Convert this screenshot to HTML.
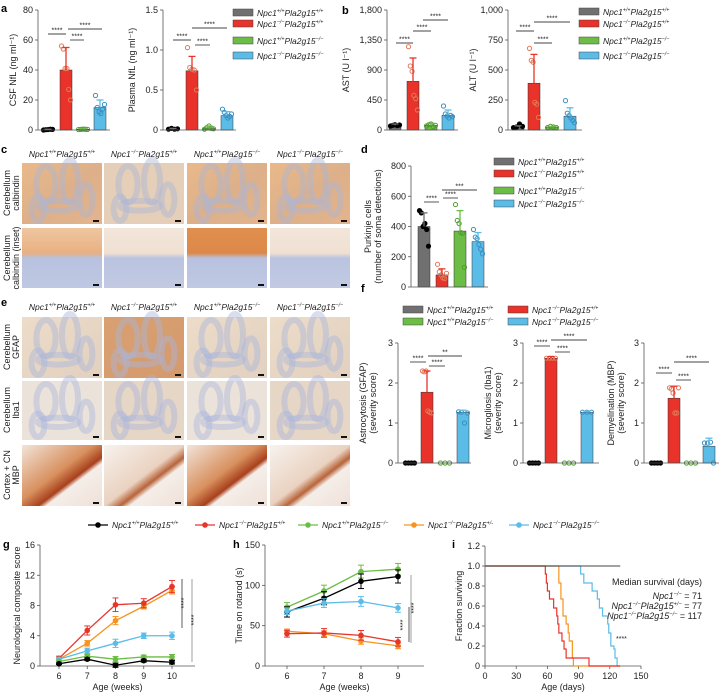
<!DOCTYPE html>
<html><head><meta charset="utf-8"><style>
html,body{margin:0;padding:0;background:#fff;}
svg{display:block;font-family:"Liberation Sans",Arial,sans-serif;}
</style></head><body>
<svg id="fig" width="722" height="693" viewBox="0 0 722 693" xmlns="http://www.w3.org/2000/svg">
<defs>
<linearGradient id="gCal" x1="0" y1="0" x2="1" y2="1"><stop offset="0" stop-color="#e9b98a"/><stop offset="0.5" stop-color="#ddb08a"/><stop offset="1" stop-color="#e3b48c"/></linearGradient>
<linearGradient id="gIns" x1="0" y1="0" x2="0" y2="1"><stop offset="0" stop-color="#eec6a0"/><stop offset="0.42" stop-color="#e8b082"/><stop offset="0.5" stop-color="#b8c2df"/><stop offset="1" stop-color="#bfc8e2"/></linearGradient>
<linearGradient id="gIns2" x1="0" y1="0" x2="0" y2="1"><stop offset="0" stop-color="#f2e6da"/><stop offset="0.42" stop-color="#efe0d2"/><stop offset="0.5" stop-color="#bac4e0"/><stop offset="1" stop-color="#c2cae2"/></linearGradient>
<linearGradient id="gIns3" x1="0" y1="0" x2="0" y2="1"><stop offset="0" stop-color="#e08f4f"/><stop offset="0.42" stop-color="#dc8848"/><stop offset="0.5" stop-color="#b8c2df"/><stop offset="1" stop-color="#c0c8e2"/></linearGradient>
<linearGradient id="gGF" x1="0" y1="0" x2="1" y2="1"><stop offset="0" stop-color="#ecdcc8"/><stop offset="1" stop-color="#e2d0c0"/></linearGradient>
<linearGradient id="gGF2" x1="0" y1="0" x2="1" y2="1"><stop offset="0" stop-color="#d9a070"/><stop offset="1" stop-color="#d49a6e"/></linearGradient>
<linearGradient id="gMBP" x1="0" y1="0" x2="1" y2="1"><stop offset="0" stop-color="#f2e4da"/><stop offset="0.45" stop-color="#d8905e"/><stop offset="0.6" stop-color="#a8401c"/><stop offset="0.65" stop-color="#f5eee8"/><stop offset="1" stop-color="#efe0d8"/></linearGradient>
<linearGradient id="gMBP2" x1="0" y1="0" x2="1" y2="1"><stop offset="0" stop-color="#f7f2ee"/><stop offset="0.5" stop-color="#ead2c0"/><stop offset="0.6" stop-color="#b8643a"/><stop offset="0.66" stop-color="#f5eee8"/><stop offset="1" stop-color="#efe0d8"/></linearGradient>
</defs>
</svg>
<script>
// ---------------- DATA ----------------
const groups = ["Npc1+/+Pla2g15+/+","Npc1-/-Pla2g15+/+","Npc1+/+Pla2g15-/-","Npc1-/-Pla2g15-/-"];
const csfMean = [0.3, 40, 0.5, 15];
const csfErr = [0.5, 55, 0.8, 20];
const csfPts = [[0,0.2,0.3,0.5,0.4],[56,54,41,41,27,20],[0.3,0.4,0.6,0.5,0.4],[23,15,12,11,14,17]];
const plasmaMean = [0.01, 0.74, 0.02, 0.18];
const plasmaErr = [0.02, 0.92, 0.05, 0.23];
const plasmaPts = [[0.01,0.02,0.01,0.015],[1.03,0.78,0.76,0.75,0.5],[0.01,0.03,0.05,0.02,0.015],[0.26,0.22,0.18,0.15,0.17,0.2]];
const astMean = [70, 730, 70, 220];
const astErr = [90, 1080, 100, 300];
const astPts = [[60,70,80,65,75],[1250,960,880,520,470,300],[60,80,90,50,70],[360,240,210,180,220,200]];
const altMean = [25, 390, 25, 115];
const altErr = [35, 630, 30, 185];
const altPts = [[20,25,50,30],[680,580,565,230,215,105],[20,30,25,20],[245,140,120,100,80,60]];
const purkMean = [400, 80, 370, 300];
const purkErr = [490, 120, 505, 360];
const purkPts = [[505,490,400,420,380,270],[150,100,80,60,55,90],[545,440,420,360,355,130],[380,330,320,280,250,220]];
const gfapMean = [0, 1.77, 0, 1.27];
const gfapErr = [0, 2.3, 0, 1.32];
const gfapPts = [[0,0,0,0],[2.3,2.28,2.3,1.3,1.27,1.25],[0,0,0],[1.28,1.27,1.0,1.25]];
const ibaMean = [0, 2.62, 0, 1.27];
const ibaErr = [0, 2.66, 0, 1.29];
const ibaPts = [[0,0,0,0],[2.62,2.62,2.62,2.62],[0,0,0],[1.27,1.27,1.27]];
const mbpMean = [0, 1.62, 0, 0.42];
const mbpErr = [0, 1.92, 0, 0.62];
const mbpPts = [[0,0,0,0],[1.88,1.85,1.75,1.25,1.25,1.88],[0,0,0],[0.5,0.5,0.52,0]];

const weeksG = [6,7,8,9,10];
const gBlack = [0.3,0.9,0.1,0.7,0.5];
const gRed = [1.0,4.7,8.1,8.3,10.5];
const gGreen = [0.6,1.3,0.9,1.2,1.2];
const gOrange = [0.9,3.0,6.0,7.9,10.0];
const gBlue = [0.9,2.0,3.0,4.0,4.0];
const gErr = [0.3,0.6,0.9,0.6,0.8];

const weeksH = [6,7,8,9];
const hBlack = [67,84,105,111];
const hGreen = [73,93,117,120];
const hBlue = [68,78,80,72];
const hRed = [40,41,38,30];
const hOrange = [43,40,31,25];
const hErr = [7,9,10,9];

const survRedT = [58,59,60,62,66,69,70,71,74,76,78,100];
const survRedV = [0.92,0.83,0.75,0.67,0.58,0.5,0.42,0.33,0.25,0.17,0.08,0];
const survOrT = [71,73,75,78,80,81,84,85];
const survOrV = [0.83,0.67,0.5,0.42,0.33,0.25,0.08,0];
const survBlT = [92,95,103,108,110,113,118,119,121,124,125,127];
const survBlV = [0.92,0.83,0.75,0.67,0.58,0.5,0.42,0.33,0.2,0.17,0.08,0];

// -------------- helpers ----------------
const svg = document.getElementById('fig');
const NS = 'http://www.w3.org/2000/svg';
const COL = ['#707070','#e8322a','#6cbd45','#5bbce8'];
const PTC = ['#000','#e07a5a','#4f9a33','#3a8fc0'];
function el(tag, attrs, parent){const e=document.createElementNS(NS,tag);for(const k in attrs)e.setAttribute(k,attrs[k]);(parent||svg).appendChild(e);return e;}
function txt(x,y,s,o){o=o||{};const t=el('text',{x:x,y:y,'font-size':o.fs||9,'text-anchor':o.a||'start',fill:o.c||'#222'});if(o.it)t.setAttribute('font-style','italic');if(o.rot)t.setAttribute('transform','rotate(-90 '+x+' '+y+')');if(o.bold)t.setAttribute('font-weight','bold');t.textContent=s;return t;}
function geno(x,y,s,fs,anchor){
  const m=s.match(/Npc1(.{3})Pla2g15(.{3})/);
  const t=el('text',{x:x,y:y,'font-size':fs,'font-style':'italic','text-anchor':anchor||'start',fill:'#222'});
  
  const sup=(m[1]==='-/-'?'\u2212/\u2212':m[1]);const sup2=(m[2]==='-/-'?'\u2212/\u2212':m[2]);
  t.innerHTML='<tspan>Npc1</tspan><tspan dy="-3.5" font-size="'+(fs*0.62)+'">'+sup+'</tspan><tspan dy="3.5">Pla2g15</tspan><tspan dy="-3.5" font-size="'+(fs*0.62)+'">'+sup2+'</tspan>';
  return t;}
function line(x1,y1,x2,y2,c,w,name){const l=el('line',{x1:x1,y1:y1,x2:x2,y2:y2,stroke:c||'#333','stroke-width':w||0.8});return l;}

function barChart(c){
  const y=v=>c.yb-(v/c.max)*(c.yb-c.yt);
  const g=el('g',{});
  line(c.ax,c.yt,c.ax,c.yb,'#555',0.8,'y-axis');
  line(c.ax,c.yb,c.xe,c.yb,'#555',0.8,'x-axis');
  c.ticks.forEach((t,i)=>{line(c.ax-3,y(t),c.ax,y(t),'#555',0.8,'y-tick');txt(c.ax-5,y(t)+3,c.tl[i],{a:'end',fs:9,name:'y-tick-label'});});
  c.lab.forEach((l,i)=>txt(c.lx+i*10,(c.yt+c.yb)/2,l,{rot:1,a:'middle',fs:9,name:'y-axis-title'}));
  c.cx.forEach((x,i)=>{
    const r=el('rect',{x:x-6,y:y(c.mean[i]),width:12,height:Math.max(0.01,c.yb-y(c.mean[i])),fill:COL[i],stroke:'#333','stroke-width':0.5},g);
    
    if(c.err[i]>c.mean[i]+0.001){line(x,y(c.mean[i]),x,y(c.err[i]),COL[i],1.3,'error-bar');line(x-3.5,y(c.err[i]),x+3.5,y(c.err[i]),COL[i],1.3,'error-cap');}
    c.pts[i].forEach((v,j)=>{const n=c.pts[i].length;const dx=(j-(n-1)/2)*(9/Math.max(n-1,1));
      const p=el('circle',{cx:x+dx,cy:y(v),r:2.1,fill:i===0?'#000':'none',stroke:PTC[i],'stroke-width':1},g);
      });
  });
  (c.sig||[]).forEach(s=>{line(s[0],s[2],s[1],s[2],'#444',0.9,'significance-bar');txt((s[0]+s[1])/2,s[2]-1.5,s[3],{a:'middle',fs:7,name:'significance-stars'});});
}
function legendBox(x,y,i,fs){const r=el('rect',{x:x,y:y-5,width:20,height:7,fill:COL[i],stroke:'#444','stroke-width':0.5});geno(x+24,y+2,groups[i],fs||8.5);}

// ---------------- panel labels -------------
[['a',1,12],['b',342,14],['c',1,153],['d',361,153],['e',1,306],['f',361,292],['g',3,548],['h',233,548],['i',452,548]].forEach(p=>txt(p[1],p[2],p[0],{bold:1,fs:11,c:'#000',name:'panel-label-'+p[0]}));

// ---------------- a ----------------
barChart({name:'csf-nfl-chart',ax:38,xe:110,yt:10,yb:130,max:80,ticks:[0,20,40,60,80],tl:['0','20','40','60','80'],lab:['CSF NfL (ng ml\u207B\u00B9)'],lx:16,cx:[48,66,83,100],mean:csfMean,err:csfErr,pts:csfPts,sig:[[48,66,34,'****'],[70,84,40,'****'],[68,102,29,'****']]});
barChart({name:'plasma-nfl-chart',ax:163,xe:236,yt:10,yb:130,max:1.5,ticks:[0,0.5,1,1.5],tl:['0','0.5','1.0','1.5'],lab:['Plasma NfL (ng ml\u207B\u00B9)'],lx:135,cx:[173,192,209,227],mean:plasmaMean,err:plasmaErr,pts:plasmaPts,sig:[[173,191,40,'****'],[195,210,45,'****'],[192,227,28,'****']]});
[14,25,42,57].forEach((yy,i)=>legendBox(233,yy,i,8.5));

// ---------------- b ----------------
barChart({name:'ast-chart',ax:387,xe:458,yt:10,yb:130,max:1800,ticks:[0,450,900,1350,1800],tl:['0','450','900','1,350','1,800'],lab:['AST (U l\u207B\u00B9)'],lx:349,cx:[395,413,431,448],mean:astMean,err:astErr,pts:astPts,sig:[[396,413,43,'****'],[413,431,31,'****'],[423,448,20,'****']]});
barChart({name:'alt-chart',ax:508,xe:582,yt:10,yb:130,max:1000,ticks:[0,250,500,750,1000],tl:['0','250','500','750','1,000'],lab:['ALT (U l\u207B\u00B9)'],lx:476,cx:[518,534,552,570],mean:altMean,err:altErr,pts:altPts,sig:[[516,534,31,'****'],[534,552,43,'****'],[534,570,22,'****']]});
[13,25,42,57].forEach((yy,i)=>legendBox(579,yy,i,8.5));

// ---------------- histology ----------------
const colX=[22,104,187,270];
function tile(x,y0,y1,fill,name,lobes){const w=80,h=y1-y0;
  const r=el('rect',{x:x,y:y0,width:w,height:h,fill:fill});
  if(lobes){[[0.3,0.35,0.12,0.3],[0.6,0.3,0.1,0.35],[0.45,0.7,0.25,0.08],[0.8,0.6,0.08,0.25],[0.2,0.75,0.08,0.2]].forEach(l=>{const e=el('ellipse',{cx:x+l[0]*w,cy:y0+l[1]*h,rx:l[2]*w,ry:l[3]*h,fill:'none',stroke:lobes,'stroke-width':6,opacity:0.45});});}
  const sb=el('rect',{x:x+w-9,y:y1-4,width:6,height:2,fill:'#111'});}
colX.forEach((x,i)=>{geno(x+40,157,groups[i],8.5,'middle');geno(x+40,310,groups[i],8.5,'middle');
  tile(x,163,224,i===1?'#e6cfb8':'url(#gCal)','calbindin-image','#aab6d8');
  tile(x,228,288,['url(#gIns)','url(#gIns2)','url(#gIns3)','url(#gIns2)'][i],'calbindin-inset-image',null);
  tile(x,317,378,(i===1?'url(#gGF2)':'url(#gGF)'),'gfap-image','#a9b5db');
  tile(x,381,440,i===0||i===2?'#ebe3da':'#e6d6c6','iba1-image','#aab6dc');
  tile(x,445,506,(i===0||i===2)?'url(#gMBP)':'url(#gMBP2)','mbp-image',null);
});
[['Cerebellum','calbindin',193],['Cerebellum','calbindin (inset)',258],['Cerebellum','GFAP',347],['Cerebellum','Iba1',410],['Cortex + CN','MBP',475]].forEach(r=>{txt(10,r[2],r[0],{rot:1,a:'middle',fs:9,name:'row-label'});txt(19,r[2],r[1],{rot:1,a:'middle',fs:9,name:'row-label'});});

// ---------------- d ----------------
barChart({name:'purkinje-chart',ax:411,xe:488,yt:166,yb:287,max:800,ticks:[0,200,400,600,800],tl:['0','200','400','600','800'],lab:['Purkinje cells','(number of soma detections)'],lx:371,cx:[424,442,460,478],mean:purkMean,err:purkErr,pts:purkPts,sig:[[424,439,202,'****'],[443,458,198,'****'],[442,477,190,'***']]});
[163,175,192,205].forEach((yy,i)=>legendBox(494,yy,i,8.5));

// ---------------- f ----------------
legendBox(403,311,0,8.5);legendBox(508,311,1,8.5);legendBox(403,323,2,8.5);legendBox(508,323,3,8.5);
barChart({name:'astrocytosis-chart',ax:398,xe:471,yt:343,yb:463,max:3,ticks:[0,1,2,3],tl:['0','1','2','3'],lab:['Astrocytosis (GFAP)','(severity score)'],lx:366,cx:[410,427,445,463],mean:gfapMean,err:gfapErr,pts:gfapPts,sig:[[410,426,362,'****'],[429,445,366,'****'],[428,462,356,'**']]});
barChart({name:'microgliosis-chart',ax:523,xe:599,yt:343,yb:463,max:3,ticks:[0,1,2,3],tl:['0','1','2','3'],lab:['Microgliosis (Iba1)','(severity score)'],lx:491,cx:[534,551,569,587],mean:ibaMean,err:ibaErr,pts:ibaPts,sig:[[534,550,346,'****'],[555,570,352,'****'],[551,587,340,'****']]});
barChart({name:'demyelination-chart',ax:644,xe:719,yt:343,yb:463,max:3,ticks:[0,1,2,3],tl:['0','1','2','3'],lab:['Demyelination (MBP)','(severity score)'],lx:614,cx:[656,674,691,709],mean:mbpMean,err:mbpErr,pts:mbpPts,sig:[[656,672,373,'****'],[676,691,380,'****'],[674,709,362,'****']]});

// ---------------- line legend ----------------
const LC={black:'#000',red:'#e8352c',green:'#6cbd45',orange:'#f7931e',blue:'#5bbce8'};
[[88,'black','Npc1+/+Pla2g15+/+'],[195,'red','Npc1-/-Pla2g15+/+'],[298,'green','Npc1+/+Pla2g15-/-'],[404,'orange','Npc1-/-Pla2g15+/-'],[509,'blue','Npc1-/-Pla2g15-/-']].forEach(e=>{
  line(e[0],525,e[0]+20,525,LC[e[1]],1.2,'legend-line');const c=el('circle',{cx:e[0]+10,cy:525,r:2.8,fill:LC[e[1]]});
  geno(e[0]+24,528,e[2],8.5);});

function lineChart(c){
  const x=v=>c.x0+(v-c.xmin)/(c.xmax-c.xmin)*(c.x1-c.x0);
  const y=v=>c.yb-(v/c.ymax)*(c.yb-c.yt);
  line(c.ax,c.yt,c.ax,c.yb,'#555',0.8,'y-axis');line(c.ax,c.yb,c.xe,c.yb,'#555',0.8,'x-axis');
  c.yt_.forEach(t=>{line(c.ax-3,y(t),c.ax,y(t),'#555',0.8,'y-tick');txt(c.ax-5,y(t)+3,String(t),{a:'end',name:'y-tick-label'});});
  c.xs.forEach(t=>{line(x(t),c.yb,x(t),c.yb+3,'#555',0.8,'x-tick');txt(x(t),c.yb+13,String(t),{a:'middle',name:'x-tick-label'});});
  txt((c.ax+c.xe)/2,c.yb+24,c.xl,{a:'middle',name:'x-axis-title'});
  txt(c.lx,(c.yt+c.yb)/2,c.yl,{rot:1,a:'middle',name:'y-axis-title'});
  c.series.forEach(s=>{
    const pts=c.xs.map((t,i)=>x(t)+','+y(s[1][i])).join(' ');
    const pl=el('polyline',{points:pts,fill:'none',stroke:LC[s[0]],'stroke-width':1.3});
    c.xs.forEach((t,i)=>{const e=c.err[i];line(x(t),y(s[1][i]-e*(s[2]||1)),x(t),y(s[1][i]+e*(s[2]||1)),LC[s[0]],1,'error-bar');
      line(x(t)-3,y(s[1][i]+e*(s[2]||1)),x(t)+3,y(s[1][i]+e*(s[2]||1)),LC[s[0]],1,'error-cap');line(x(t)-3,y(s[1][i]-e*(s[2]||1)),x(t)+3,y(s[1][i]-e*(s[2]||1)),LC[s[0]],1,'error-cap');
      const p=el('circle',{cx:x(t),cy:y(s[1][i]),r:2.8,fill:LC[s[0]]});});
  });
}
lineChart({ax:40,xe:195,x0:59,x1:172,xmin:6,xmax:10,yt:545,yb:666,ymax:16,yt_:[0,4,8,12,16],xs:weeksG,xl:'Age (weeks)',yl:'Neurological composite score',lx:20,err:gErr,
  series:[['orange',gOrange,0.6],['red',gRed],['blue',gBlue,0.6],['green',gGreen,0.4],['black',gBlack,0.3]]});
line(182,579,182,628,'#333',0.8,'significance-line');line(192,579,192,662,'#888',0.8,'significance-line');
txt(186,603,'****',{rot:1,a:'middle',fs:7,name:'significance-stars'});txt(196,620,'****',{rot:1,a:'middle',fs:7,name:'significance-stars'});
lineChart({ax:265,xe:424,x0:287,x1:398,xmin:6,xmax:9,yt:545,yb:666,ymax:150,yt_:[0,50,100,150],xs:weeksH,xl:'Age (weeks)',yl:'Time on rotarod (s)',lx:242,err:hErr,
  series:[['green',hGreen,0.8],['black',hBlack,0.9],['blue',hBlue,0.6],['orange',hOrange,0.4],['red',hRed,0.6]]});
line(409,607,409,642,'#333',0.8,'significance-line');line(411,575,411,643,'#888',0.8,'significance-line');
txt(405,625,'****',{rot:1,a:'middle',fs:7,name:'significance-stars'});txt(416,608,'****',{rot:1,a:'middle',fs:7,name:'significance-stars'});

// ---------------- i survival ----------------
(function(){
  const ax=485,x=v=>ax+v/150*(641-ax),yb=666,y=v=>yb-v/1.2*(yb-546);
  line(ax,546,ax,yb,'#555',0.8,'y-axis');line(ax,yb,641,yb,'#555',0.8,'x-axis');
  [0,0.2,0.4,0.6,0.8,1.0,1.2].forEach(t=>{line(ax-3,y(t),ax,y(t),'#555',0.8,'y-tick');txt(ax-5,y(t)+3,t===0?'0':t.toFixed(1),{a:'end',name:'y-tick-label'});});
  [0,30,60,90,120,150].forEach(t=>{line(x(t),yb,x(t),yb+3,'#555',0.8,'x-tick');txt(x(t),yb+13,String(t),{a:'middle',name:'x-tick-label'});});
  txt(563,690,'Age (days)',{a:'middle',name:'x-axis-title'});txt(462,606,'Fraction surviving',{rot:1,a:'middle',name:'y-axis-title'});
  function step(T,V,c,name){let d='M'+x(0)+','+y(1);let prev=1;T.forEach((t,i)=>{d+=' L'+x(t)+','+y(prev)+' L'+x(t)+','+y(V[i]);prev=V[i];});d+=' L'+x(130)+','+y(prev);
    const p=el('path',{d:d,fill:'none',stroke:c,'stroke-width':1.2});}
  step(survBlT,survBlV,LC.blue,'survival-blue');step(survOrT,survOrV,LC.orange,'survival-orange');step(survRedT,survRedV,LC.red,'survival-red');
  line(x(0),y(1),x(130),y(1),'#444',1.1,'survival-black');
  txt(702,585,'Median survival (days)',{a:'end',fs:9,name:'median-survival-title'});
  const t1=el('text',{x:702,y:599,'font-size':9,'text-anchor':'end',fill:'#222'});
  t1.innerHTML='<tspan font-style="italic">Npc1</tspan><tspan dy="-3.5" font-size="5.6" font-style="italic">\u2212/\u2212</tspan><tspan dy="3.5"> = 71</tspan>';
  const t2=el('text',{x:702,y:609,'font-size':9,'text-anchor':'end',fill:'#222'});
  t2.innerHTML='<tspan font-style="italic">Npc1</tspan><tspan dy="-3.5" font-size="5.6" font-style="italic">\u2212/\u2212</tspan><tspan dy="3.5" font-style="italic">Pla2g15</tspan><tspan dy="-3.5" font-size="5.6" font-style="italic">+/\u2212</tspan><tspan dy="3.5"> = 77</tspan>';
  const t3=el('text',{x:702,y:619,'font-size':9,'text-anchor':'end',fill:'#222'});
  t3.innerHTML='<tspan font-style="italic">Npc1</tspan><tspan dy="-3.5" font-size="5.6" font-style="italic">\u2212/\u2212</tspan><tspan dy="3.5" font-style="italic">Pla2g15</tspan><tspan dy="-3.5" font-size="5.6" font-style="italic">\u2212/\u2212</tspan><tspan dy="3.5"> = 117</tspan>';
  txt(616,641,'****',{fs:7,name:'significance-stars'});
})();
</script>
</body></html>
